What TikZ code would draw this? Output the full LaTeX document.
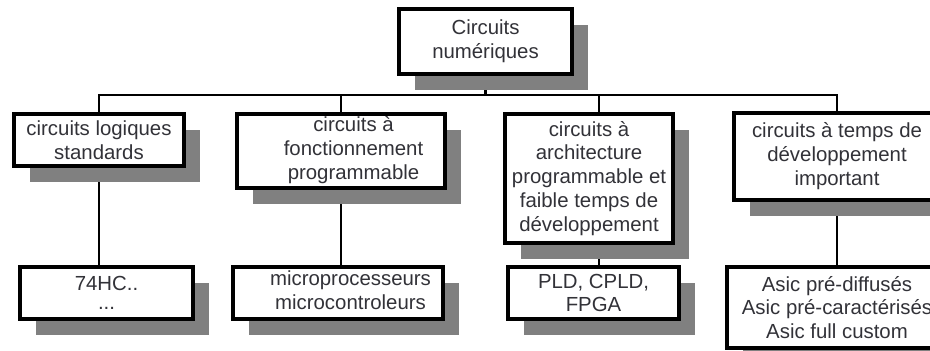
\documentclass[tikz,border=0pt]{standalone}
\usepackage{fontspec}
\setmainfont{Liberation Sans}
\usepackage{xcolor}
\usepackage{tikz}
\usetikzlibrary{shadows, backgrounds, calc}
\definecolor{mytext}{RGB}{50,50,56}
\definecolor{myshadow}{RGB}{128,128,128}
\tikzset{
  box/.style={rectangle, draw=black, fill=white, line width=2pt,
    align=center, text=mytext, inner sep=0.5pt,
    font=\fontsize{11.6pt}{13.6pt}\selectfont,
    drop shadow={shadow xshift=0.32cm, shadow yshift=-0.32cm,
      fill=myshadow, opacity=1}},
  line/.style={line width=1.5pt, color=black}
}

\begin{document}
\begin{tikzpicture}
  \useasboundingbox (0,0) rectangle (18.6,7.02);

  % Root
  \node[box, minimum width=3.46cm, minimum height=1.3cm] (num) at (9.71,6.19) {Circuits\\numériques};

  % First level
  \node[box, minimum width=3.4cm, minimum height=1.04cm] (std) at (1.98,4.22) {circuits logiques\\standards};
  \node[box, minimum width=4.16cm, minimum height=1.48cm] (prog) at (6.82,4.0)
    {\hspace*{0.5cm}\begin{tabular}{@{}c@{}}circuits à\\fonctionnement\\programmable\end{tabular}};
  \node[box, minimum width=3.36cm, minimum height=2.58cm] (archi) at (11.78,3.45)
    {circuits à\\architecture\\programmable et\\faible temps de\\développement};
  \node[box, minimum width=4.12cm, minimum height=1.74cm] (asic) at (16.74,3.89)
    {circuits à temps de\\développement\\important};

  % Second level
  \node[box, minimum width=3.46cm, minimum height=1.04cm] (ttl) at (2.13,1.16) {74HC..\\[-2.5pt]...};
  \node[box, minimum width=4.2cm, minimum height=1.04cm] (micro) at (6.76,1.16)
    {\hspace*{0.5cm}\begin{tabular}{@{}c@{}}microprocesseurs\\microcontroleurs\end{tabular}};
  \node[box, minimum width=3.42cm, minimum height=1.04cm] (pld) at (11.87,1.16) {PLD, CPLD,\\FPGA};
  \node[box, minimum width=4.4cm, minimum height=1.62cm] (asicl) at (16.74,0.87)
    {Asic pré-diffusés\\Asic pré-caractérisés\\Asic full custom};

  % Connections (under the shadows)
  \begin{pgfonlayer}{background}
    \coordinate (bus) at (9.71,5.12);
    \draw[line] (num) -- (bus);
    \draw[line] (bus) -| (std);
    \draw[line] (bus) -| (prog);
    \draw[line] (bus) -| ([xshift=0.2cm]archi.north);
    \draw[line] (bus) -| (asic);

    \draw[line] (std) -- (std |- ttl.north);
    \draw[line] (prog) -- (prog |- micro.north);
    \draw[line] ([xshift=0.2cm]archi.south) -- ([xshift=0.2cm]archi.south |- pld.north);
    \draw[line] (asic) -- (asicl);
  \end{pgfonlayer}
\end{tikzpicture}
\end{document}
